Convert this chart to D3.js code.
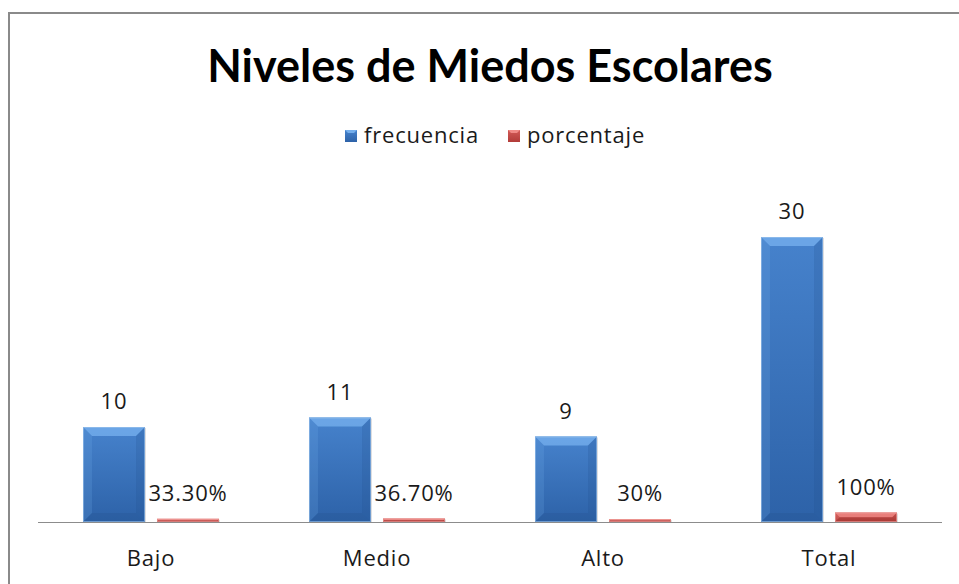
<!DOCTYPE html>
<html>
<head>
<meta charset="utf-8">
<script src="https://cdn.jsdelivr.net/npm/d3@7"></script>
<style>
  body { margin: 0; background: #fff; }
  svg text { font-family: "Open Sans", sans-serif; fill: #1a1a1a; }
</style>
</head>
<body>
<div id="chart"></div>
<script>
// data
var categories = ["Bajo", "Medio", "Alto", "Total"];
var series = ["frecuencia", "porcentaje"];
var frecuencia = [10, 11, 9, 30];
var porcentaje = [0.333, 0.367, 0.30, 1.00];
var porcentajeLabels = ["33.30%", "36.70%", "30%", "100%"];

var width = 959, height = 584;

var svg = d3.select("#chart").append("svg")
    .attr("width", width)
    .attr("height", height);

// colours per series
var colors = {
    frecuencia: { top: "#4682cc", bottom: "#2d62a8", light: "#74aeec", dark: "#24508c", edge: "#9ec4ec" },
    porcentaje: { top: "#d25a57", bottom: "#b23c39", light: "#f08a86", dark: "#8e2b29", edge: "#f0a6a3" }
};

var defs = svg.append("defs");
series.forEach(function(s) {
    var g = defs.append("linearGradient")
        .attr("id", "grad_" + s)
        .attr("x1", 0).attr("y1", 0).attr("x2", 0).attr("y2", 1);
    g.append("stop").attr("offset", "0%").attr("stop-color", colors[s].top);
    g.append("stop").attr("offset", "100%").attr("stop-color", colors[s].bottom);
});

// chart border (only top and left visible)
svg.append("path")
    .attr("d", "M9,584 L9,13 L959,13")
    .attr("fill", "none")
    .attr("stroke", "#8a8a8a")
    .attr("stroke-width", 2);

// title
svg.append("text")
    .attr("x", 490)
    .attr("y", 82)
    .attr("text-anchor", "middle")
    .style("font-family", "Lato, sans-serif")
    .style("font-size", "45px")
    .style("font-weight", "bold")
    .style("fill", "#000")
    .text("Niveles de Miedos Escolares");

// scales
var x = d3.scaleBand()
    .domain(categories)
    .range([38, 942])
    .paddingInner(0)
    .paddingOuter(0);

var xs = d3.scaleBand()
    .domain(series)
    .range([0, x.bandwidth()])
    .paddingInner(0.162)
    .paddingOuter(0.608);

var y = d3.scaleLinear()
    .domain([0, 35])
    .range([522, 189.5]);

var rows = categories.map(function(c, i) {
    return {
        cat: c,
        values: [
            { key: "frecuencia", value: frecuencia[i], label: String(frecuencia[i]) },
            { key: "porcentaje", value: porcentaje[i], label: porcentajeLabels[i] }
        ]
    };
});

// bars with bevel
var groups = svg.append("g").attr("class", "bars")
    .selectAll("g")
    .data(rows)
    .enter()
    .append("g")
    .attr("transform", function(d) { return "translate(" + x(d.cat) + ",0)"; });

var bars = groups.selectAll("g.bar")
    .data(function(d) { return d.values; })
    .enter()
    .append("g")
    .attr("class", "bar");

bars.each(function(d) {
    var g = d3.select(this);
    var x0 = xs(d.key), w = xs.bandwidth();
    var y0 = y(d.value), y1 = y(0);
    var h = y1 - y0;
    var b = Math.min(9, h / 2);
    var c = colors[d.key];

    // soft shadow
    g.append("rect")
        .attr("x", x0 + 1).attr("y", y0 + 1)
        .attr("width", w).attr("height", h)
        .attr("fill", "#000").attr("opacity", 0.12);

    g.append("rect")
        .attr("x", x0).attr("y", y0)
        .attr("width", w).attr("height", h)
        .attr("fill", "url(#grad_" + d.key + ")");

    // top bevel
    g.append("path")
        .attr("d", "M" + x0 + "," + y0 + " L" + (x0 + w) + "," + y0 +
            " L" + (x0 + w - b) + "," + (y0 + b) + " L" + (x0 + b) + "," + (y0 + b) + " Z")
        .attr("fill", c.light).attr("opacity", 0.8);
    // left bevel
    g.append("path")
        .attr("d", "M" + x0 + "," + y0 + " L" + (x0 + b) + "," + (y0 + b) +
            " L" + (x0 + b) + "," + (y1 - b) + " L" + x0 + "," + y1 + " Z")
        .attr("fill", c.light).attr("opacity", 0.2);
    // right bevel
    g.append("path")
        .attr("d", "M" + (x0 + w) + "," + y0 + " L" + (x0 + w - b) + "," + (y0 + b) +
            " L" + (x0 + w - b) + "," + (y1 - b) + " L" + (x0 + w) + "," + y1 + " Z")
        .attr("fill", c.dark).attr("opacity", 0.2);
    // bottom bevel
    g.append("path")
        .attr("d", "M" + x0 + "," + y1 + " L" + (x0 + b) + "," + (y1 - b) +
            " L" + (x0 + w - b) + "," + (y1 - b) + " L" + (x0 + w) + "," + y1 + " Z")
        .attr("fill", c.dark).attr("opacity", 0.25);

    g.append("rect")
        .attr("x", x0 + 0.5).attr("y", y0 + 0.5)
        .attr("width", w - 1).attr("height", Math.max(0, h - 1))
        .attr("fill", "none")
        .attr("stroke", c.edge).attr("stroke-width", 1).attr("opacity", 0.6);

    // value label
    g.append("text")
        .attr("x", x0 + w / 2)
        .attr("y", y0 - 18)
        .attr("text-anchor", "middle")
        .style("font-size", "22px")
        .style("letter-spacing", "0.8px")
        .text(d.label);
});

// x axis line
svg.append("line")
    .attr("x1", 38).attr("x2", 942)
    .attr("y1", y(0) + 0.5).attr("y2", y(0) + 0.5)
    .attr("stroke", "#8c8c8c")
    .attr("stroke-width", 1);

// category labels
svg.append("g").selectAll("text")
    .data(categories)
    .enter()
    .append("text")
    .attr("x", function(d) { return x(d) + x.bandwidth() / 2; })
    .attr("y", 566)
    .attr("text-anchor", "middle")
    .style("font-size", "22px")
    .style("letter-spacing", "0.8px")
    .text(function(d) { return d; });

// legend
var legend = svg.append("g").attr("class", "legend");
var legendX = [345, 508];
series.forEach(function(s, i) {
    var lg = legend.append("g").attr("transform", "translate(" + legendX[i] + ",130)");
    lg.append("rect")
        .attr("width", 12).attr("height", 12)
        .attr("fill", "url(#grad_" + s + ")");
    lg.append("path")
        .attr("d", "M0,0 L12,0 L9,3 L3,3 Z")
        .attr("fill", colors[s].light);
    lg.append("text")
        .attr("x", 19)
        .attr("y", 13)
        .style("font-size", "22px")
        .style("letter-spacing", "0.8px")
        .text(s);
});
</script>
</body>
</html>
